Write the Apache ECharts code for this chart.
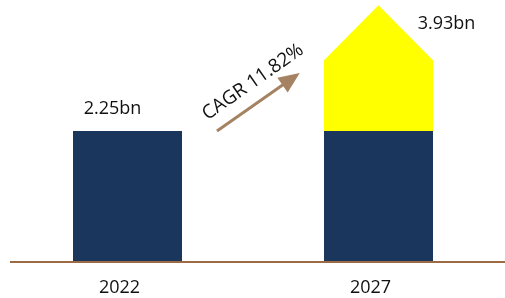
<!DOCTYPE html>
<html>
<head>
<meta charset="utf-8">
<script src="https://cdn.jsdelivr.net/npm/echarts@6/dist/echarts.min.js"></script>
<style>
  html, body { margin: 0; padding: 0; background: #fff; }
  #chart { width: 505px; height: 298px; }
</style>
</head>
<body>
<div id="chart"></div>
<script>
// market size, bn
var years = ['2022', '2027'];
var baseValues = [2.25, 2.25];
var totalValues = [2.25, 3.93];
var valueLabels = ['2.25bn', '3.93bn'];
var cagrText = 'CAGR 11.82%';

var navy = '#1b365d';
var yellow = '#ffff00';
var brown = '#9c6a44';
var arrowColor = '#a58262';
var font = 'Open Sans';

var chart = echarts.init(document.getElementById('chart'));

// growth part of the last year drawn as an upward arrow shape
var growthData = [];
for (var i = 0; i < years.length; i++) {
  if (totalValues[i] > baseValues[i]) growthData.push([i, baseValues[i], totalValues[i]]);
}

var ang = 35 * Math.PI / 180;

chart.setOption({
  animation: false,
  grid: { left: 2, right: 1, top: 0, bottom: 36 },
  xAxis: {
    type: 'category',
    data: years,
    axisLine: { show: false },
    axisTick: { show: false },
    axisLabel: { color: '#111', fontFamily: font, fontSize: 18, margin: 17, padding: [0, 16, 0, 0] }
  },
  yAxis: {
    type: 'value', min: 0, max: 4.5,
    show: false, splitLine: { show: false }
  },
  series: [
    {
      type: 'bar',
      data: baseValues,
      barWidth: 109,
      itemStyle: { color: navy },
      label: {
        show: true, position: 'top', distance: 13, offset: [-15, 0],
        fontFamily: font, fontSize: 18, color: '#111',
        formatter: function (p) { return totalValues[p.dataIndex] === baseValues[p.dataIndex] ? valueLabels[p.dataIndex] : ''; }
      }
    },
    {
      type: 'custom',
      data: growthData,
      renderItem: function (params, api) {
        var idx = api.value(0);
        var bottom = api.coord([idx, api.value(1)]);
        var mid = api.coord([idx, api.value(2)]);
        var half = 54.5, head = 27;
        var cx = bottom[0];
        return {
          type: 'group',
          children: [
            {
              type: 'polygon',
              shape: { points: [
                [cx - half, bottom[1]], [cx + half, bottom[1]],
                [cx + half, mid[1] + head], [cx, mid[1] - head - 1],
                [cx - half, mid[1] + head]
              ] },
              style: { fill: yellow }
            },
            {
              type: 'text',
              x: cx + 68, y: mid[1] - 9,
              style: { text: valueLabels[idx], fontFamily: font, fontSize: 18, fill: '#111', align: 'center', verticalAlign: 'middle' }
            }
          ]
        };
      }
    }
  ]
});

// baseline drawn from the zero of the value axis, starting a little in from the left edge
var zeroY = chart.convertToPixel({ yAxisIndex: 0 }, 0);
chart.setOption({
  graphic: [
    { type: 'line', shape: { x1: 10, y1: zeroY, x2: 505, y2: zeroY }, style: { stroke: brown, lineWidth: 2 }, z: 10 },
    {
      type: 'group', x: 217, y: 131, rotation: ang,
      children: [
        { type: 'line', shape: { x1: 0, y1: 0, x2: 84, y2: 0 }, style: { stroke: arrowColor, lineWidth: 3 } },
        { type: 'polygon', shape: { points: [[101, 0], [80, -9], [80, 9]] }, style: { fill: arrowColor } }
      ]
    },
    {
      type: 'text', x: 253, y: 82, rotation: ang,
      style: { text: cagrText, fontFamily: font, fontSize: 19, fill: '#111', align: 'center', verticalAlign: 'middle' }
    }
  ]
});
</script>
</body>
</html>
